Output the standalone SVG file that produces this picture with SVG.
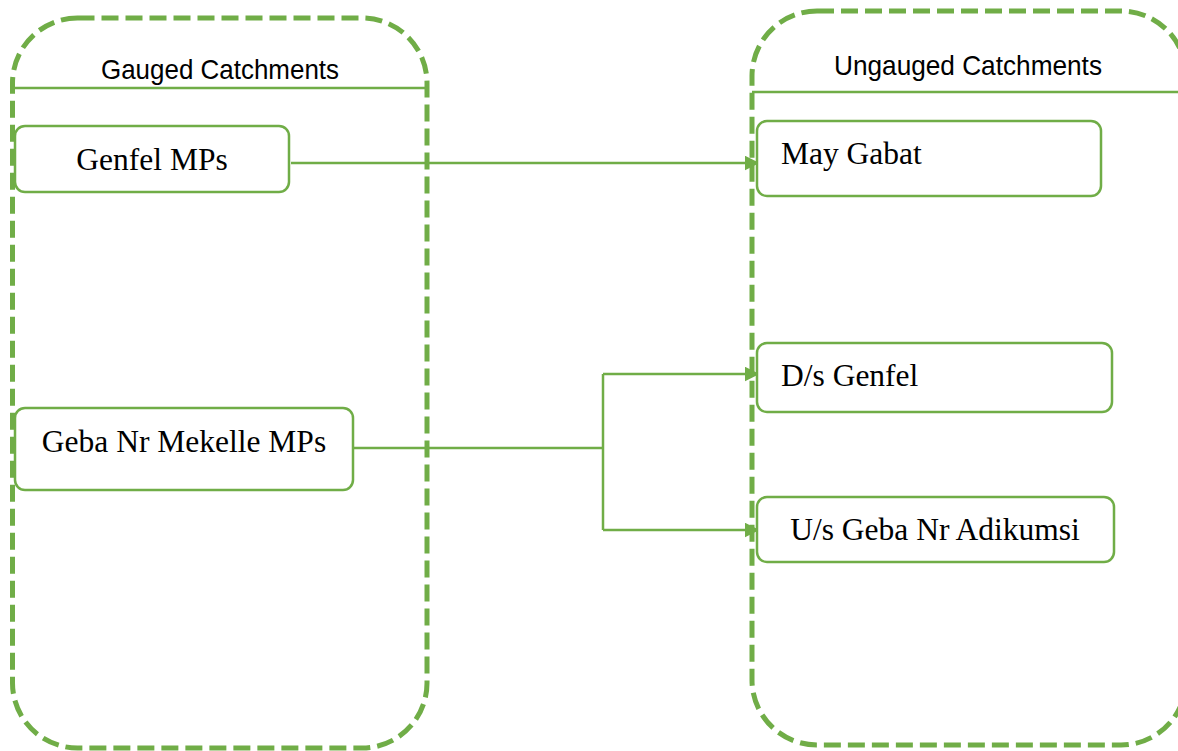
<svg xmlns="http://www.w3.org/2000/svg" width="1178" height="751" viewBox="0 0 1178 751">
<style>
.container{fill:none;stroke:#70AD47;stroke-width:5;stroke-dasharray:17 7}
.hline{stroke:#70AD47;stroke-width:2.5;fill:none}
.box{fill:#fff;stroke:#70AD47;stroke-width:2.5}
.hdr{font-family:"Liberation Sans",Arial,sans-serif;font-size:27.5px;fill:#000}
.lbl{font-family:"Liberation Serif","Times New Roman",serif;font-size:31.5px;fill:#000}
.conn{stroke:#70AD47;stroke-width:2.5;fill:none}
</style>
<defs>
<marker id="arr" viewBox="0 0 10 10" refX="9" refY="5" markerWidth="6" markerHeight="6" markerUnits="strokeWidth" orient="auto">
<path d="M0,0 L10,5 L0,10 z" fill="#70AD47"/>
</marker>
</defs>
<g id="gauged">
<rect class="container" x="12.5" y="18" width="414.5" height="730" rx="65" ry="65"/>
<line class="hline" x1="12.5" y1="88" x2="427" y2="88"/>
<text class="hdr" x="220" y="79" text-anchor="middle" textLength="238" lengthAdjust="spacingAndGlyphs">Gauged Catchments</text>
</g>
<g id="ungauged">
<rect class="container" x="752" y="11" width="434" height="734" rx="65" ry="65"/>
<line class="hline" x1="752" y1="92" x2="1178" y2="92"/>
<text class="hdr" x="968" y="75" text-anchor="middle" textLength="268" lengthAdjust="spacingAndGlyphs">Ungauged Catchments</text>
</g>
<g id="connectors">
<path class="conn" d="M291,163 L758,163" marker-end="url(#arr)"/>
<path class="conn" d="M353,448 L603,448"/>
<path class="conn" d="M603,374 L603,530"/>
<path class="conn" d="M603,374 L758,374" marker-end="url(#arr)"/>
<path class="conn" d="M603,530 L758,530" marker-end="url(#arr)"/>
</g>
<g id="genfel-mps">
<rect class="box" x="15" y="126" width="274" height="66" rx="10"/>
<text class="lbl" x="152" y="170" text-anchor="middle">Genfel MPs</text>
</g>
<g id="geba-mekelle-mps">
<rect class="box" x="15" y="408" width="338" height="82" rx="10"/>
<text class="lbl" x="184" y="452" text-anchor="middle">Geba Nr Mekelle MPs</text>
</g>
<g id="may-gabat">
<rect class="box" x="757" y="121" width="344" height="75" rx="10"/>
<text class="lbl" x="781" y="164">May Gabat</text>
</g>
<g id="ds-genfel">
<rect class="box" x="757" y="343" width="355" height="69" rx="10"/>
<text class="lbl" x="781" y="386">D/s Genfel</text>
</g>
<g id="us-geba-adikumsi">
<rect class="box" x="757" y="497" width="357" height="65" rx="10"/>
<text class="lbl" x="935" y="540" text-anchor="middle">U/s Geba Nr Adikumsi</text>
</g>
</svg>
